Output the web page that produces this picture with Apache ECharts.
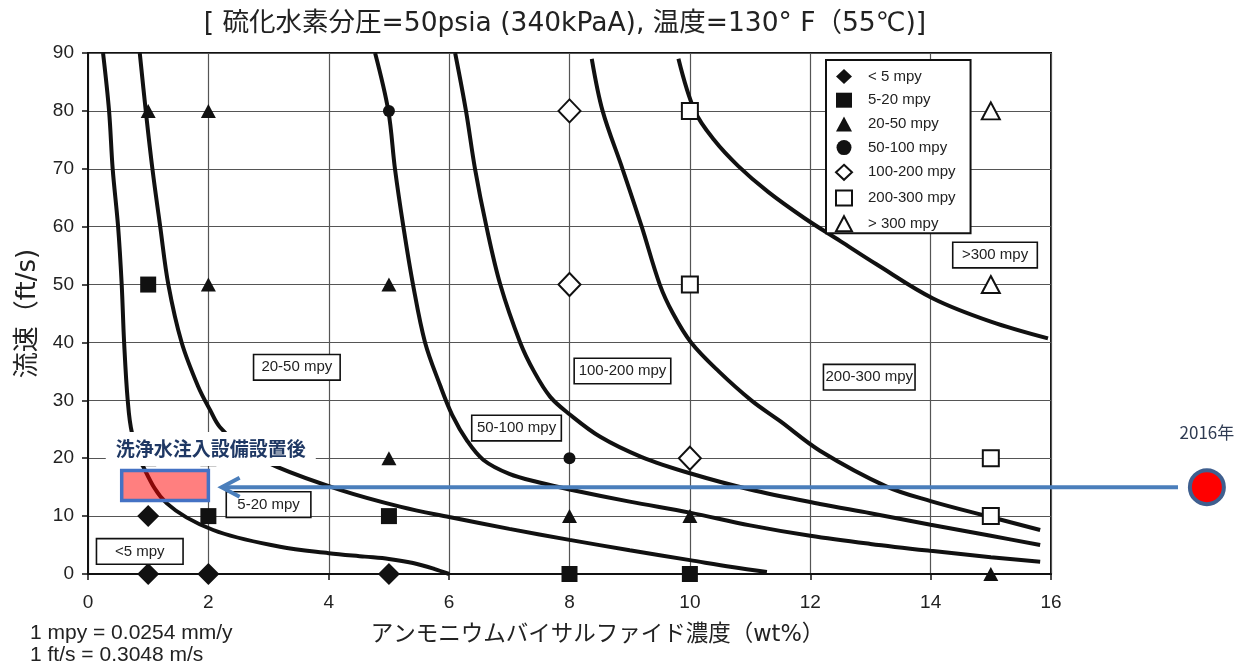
<!DOCTYPE html>
<html><head><meta charset="utf-8">
<script src="https://cdn.jsdelivr.net/npm/echarts@6/dist/echarts.min.js"></script>
<style>html,body{margin:0;padding:0;background:#fff}#c{width:1253px;height:666px}</style>
</head><body><div id="c"></div>
<script>
// ---------- texts ----------
const titleText = '[ 硫化水素分圧=50psia (340kPaA), 温度=130° F（55℃)]';
const xAxisName = 'アンモニウムバイサルファイド濃度（wt%）';
const yAxisName = '流速（ft/s)';
const noteLines = ['1 mpy = 0.0254 mm/y', '1 ft/s = 0.3048 m/s'];

// ---------- axes ----------
const xMin = 0, xMax = 16, xStep = 2;
const yMin = 0, yMax = 90, yStep = 10;

// ---------- boundary curves [wt%, ft/s] ----------
const curveLt5 = [[0.25,90],[0.35,80],[0.41,70],[0.5,60],[0.56,50],[0.6,40],[0.66,30],[0.73,24.4],[0.92,18.5],[1.31,12.2],[2.08,7.6],[3.19,4.7],[4.0,3.6],[4.6,3.0],[5.0,2.6],[5.4,1.9],[5.75,0.9],[6.0,0]];
const curve5to20 = [[0.86,90],[0.96,80],[1.07,70],[1.2,60],[1.335,50],[1.556,40],[1.83,32.4],[2.03,28.3],[2.19,25.4],[2.6,21.6],[3.14,18.5],[4.2,14.5],[5.2,11.6],[6.0,9.85],[7.0,7.8],[8.0,5.9],[9.0,4.1],[10.0,2.4],[10.7,1.2],[11.28,0.35]];
const curve20to50 = [[4.77,90],[4.99,80],[5.1,70],[5.24,60],[5.4,50],[5.6,40],[5.85,32.6],[6.05,27.5],[6.3,23],[6.57,19.7],[7.0,17.3],[7.5,15.8],[8.0,14.6],[9.0,12.5],[10.0,10.6],[11.0,8.4],[12.0,6.6],[13.0,5.2],[14.0,4.0],[15.0,2.9],[15.82,2.1]];
const curve50to100 = [[6.1,90],[6.28,80],[6.43,70],[6.62,60],[6.85,50],[7.18,40],[7.41,35],[7.68,30.6],[8.0,27.6],[8.51,23.7],[9.2,20.2],[10.0,17.4],[11.0,14.6],[12.16,12.1],[13.0,10.5],[14.0,8.5],[15.0,6.6],[15.82,5.0]];
const curve100to200 = [[8.37,89],[8.55,80],[8.88,70],[9.2,60],[9.5,50],[9.72,45],[10.02,40],[10.48,35],[11.02,30],[11.5,26.4],[12.16,21.3],[13.27,15.1],[14.0,12.6],[15.01,9.8],[15.82,7.6]];
const curve200to300 = [[9.81,89],[10.08,80],[10.4,75],[10.8,70.5],[11.3,66],[11.9,61.5],[12.5,57.5],[13.1,53.5],[14.04,47.6],[15.0,43.6],[15.95,40.7]];
const curves = [curveLt5, curve5to20, curve20to50, curve50to100, curve100to200, curve200to300];

// ---------- measured points [wt%, ft/s] ----------
const seriesNames = ['< 5 mpy','5-20 mpy','20-50 mpy','50-100 mpy','100-200 mpy','200-300 mpy','> 300 mpy'];
const ptsLt5 = [[1,0],[2,0],[5,0],[1,10]];
const pts5to20 = [[1,50],[2,10],[5,10],[8,0],[10,0],[1,20],[2,20]];
const pts20to50 = [[1,80],[2,80],[2,50],[5,50],[5,20],[8,10],[10,10],[15,0]];
const pts50to100 = [[5,80],[8,20]];
const pts100to200 = [[8,80],[8,50],[10,20]];
const pts200to300 = [[10,80],[10,50],[15,20],[15,10]];
const ptsGt300 = [[15,80],[15,50]];
const pointSets = [ptsLt5, pts5to20, pts20to50, pts50to100, pts100to200, pts200to300, ptsGt300];

// ---------- zone labels ----------
const zoneLabels = ['<5 mpy','5-20 mpy','20-50 mpy','50-100 mpy','100-200 mpy','200-300 mpy','>300 mpy'];
const zoneLabelAt = [[0.86,3.9],[3.0,12.0],[3.47,35.7],[7.12,25.2],[8.88,35.07],[12.98,34.0],[15.07,55.1]];

// ---------- annotation ----------
const washText = '洗浄水注入設備設置後';
const washTextAt = [2.04, 21.6];
const washRange = [0.56, 12.7, 2.0, 17.9];   // x0, y0, x1, y1
const arrowRange = [18.11, 15, 2.22, 15];     // from x,y  to x,y
const point2016 = [18.59, 15];
const label2016 = '2016年';
const label2016At = [18.59, 24.5];

// ---------- styles (not data) ----------
const symbolStyles = [
  {symbol:'diamond', size:[22,22], fill:'#111'},
  {symbol:'rect', size:16, fill:'#111'},
  {symbol:'triangle', size:[15,14], fill:'#111'},
  {symbol:'circle', size:12, fill:'#111'},
  {symbol:'diamond', size:[22,23], fill:'#fff'},
  {symbol:'rect', size:16, fill:'#fff'},
  {symbol:'triangle', size:[18,17], fill:'#fff'}
];
const zoneBoxW = [87,85,87,90,97,92,85];

const chart = echarts.init(document.getElementById('c'), null, {renderer:'canvas'});
const numFont = 'Liberation Sans, Arial, sans-serif';
const jpFont = 'Noto Sans CJK JP, sans-serif';
const mixFont = 'DejaVu Sans, Noto Sans CJK JP, sans-serif';

const series = [];
curves.forEach((c, i) => {
  series.push({
    name: 'boundary' + i, type: 'line', data: c, showSymbol: false, symbol: 'none',
    smooth: 0.35, silent: true, z: 3,
    lineStyle: {color: '#111', width: 4}
  });
});
pointSets.forEach((p, i) => {
  const s = symbolStyles[i];
  series.push({
    name: seriesNames[i], type: 'scatter', data: p, symbol: s.symbol, symbolSize: s.size, z: 4,
    symbolKeepAspect: false,
    itemStyle: {color: s.fill, borderColor: '#111', borderWidth: s.fill === '#fff' ? 2 : 0, opacity: 1}
  });
});
series.push({
  name: 'zones', type: 'scatter', symbolSize: 0, z: 6, silent: true,
  itemStyle: {opacity: 1},
  data: zoneLabels.map((t, i) => ({
    value: zoneLabelAt[i], name: t,
    label: {width: zoneBoxW[i] - 6}
  })),
  label: {
    show: true, position: 'inside', formatter: p => p.name, align: 'center', opacity: 1,
    fontSize: 15, fontFamily: numFont, color: '#222', lineHeight: 18,
    backgroundColor: '#fff', borderColor: '#111', borderWidth: 1.6, padding: [3, 2]
  }
});
series.push({
  name: 'washRect', type: 'custom', z: 7, silent: true, clip: false,
  data: [washRange],
  renderItem: (params, api) => {
    const p0 = api.coord([api.value(0), api.value(3)]);
    const p1 = api.coord([api.value(2), api.value(1)]);
    return {type: 'rect', shape: {x: p0[0], y: p0[1], width: p1[0]-p0[0], height: p1[1]-p0[1]},
      style: {fill: 'rgba(255,0,0,0.5)', stroke: '#4472c4', lineWidth: 3.5}};
  }
});
series.push({
  name: 'washText', type: 'scatter', symbolSize: 0, z: 8, silent: true,
  itemStyle: {opacity: 1},
  data: [{value: washTextAt, name: washText}],
  label: {
    show: true, position: 'inside', formatter: p => p.name, fontSize: 19, fontWeight: 'bold', opacity: 1,
    fontFamily: jpFont, color: '#1f3864', backgroundColor: '#fff', padding: [5, 10], lineHeight: 24
  }
});
series.push({
  name: 'arrow', type: 'custom', z: 9, silent: true, clip: false,
  data: [arrowRange],
  renderItem: (params, api) => {
    const a = api.coord([api.value(0), api.value(1)]);
    const b = api.coord([api.value(2), api.value(3)]);
    return {type: 'group', children: [
      {type: 'line', shape: {x1: a[0], y1: a[1], x2: b[0]+2, y2: b[1]}, style: {stroke: '#4a7ebb', lineWidth: 4}},
      {type: 'polyline', shape: {points: [[b[0]+18, b[1]-9.5],[b[0], b[1]],[b[0]+18, b[1]+9.5]]},
       style: {stroke: '#4a7ebb', lineWidth: 4, fill: null, lineJoin: 'miter'}}
    ]};
  }
});
series.push({
  name: 'p2016', type: 'custom', z: 10, silent: true, clip: false,
  data: [[point2016[0], point2016[1], label2016At[0], label2016At[1]]],
  renderItem: (params, api) => {
    const c = api.coord([api.value(0), api.value(1)]);
    const t = api.coord([api.value(2), api.value(3)]);
    return {type: 'group', children: [
      {type: 'circle', shape: {cx: c[0], cy: c[1], r: 17}, style: {fill: '#ff0000', stroke: '#3f5f8f', lineWidth: 4}},
      {type: 'text', x: t[0], y: t[1], style: {text: label2016, align: 'center', verticalAlign: 'middle',
        fontSize: 17, fontFamily: jpFont, fill: '#2f3b52'}}
    ]};
  }
});

const axisCommon = {
  type: 'value',
  axisLine: {show: true, onZero: false, lineStyle: {color: '#111', width: 2}},
  axisTick: {show: true, inside: false, length: 6, lineStyle: {color: '#111', width: 1.5}},
  splitLine: {show: true, lineStyle: {color: '#555', width: 1.2}},
  axisLabel: {fontSize: 19, fontFamily: numFont, color: '#222', margin: 14},
  nameMoveOverlap: false
};

chart.setOption({
  backgroundColor: '#fff',
  animation: false,
  title: [
    {text: titleText, left: 560, top: 6, textAlign: 'center',
     textStyle: {fontSize: 26.5, fontWeight: 'normal', color: '#222', fontFamily: mixFont}},
    {text: noteLines.join('\n'), left: 25, top: 617,
     textStyle: {fontSize: 21, fontWeight: 'normal', color: '#222', fontFamily: numFont, lineHeight: 22}}
  ],
  legend: {
    show: true, orient: 'vertical', left: 826, top: 60,
    itemWidth: 16, itemHeight: 15, itemGap: 8.7, symbolKeepAspect: true,
    padding: [9, 15, 1, 9], borderColor: '#111', borderWidth: 2, backgroundColor: '#fff',
    selectedMode: false,
    textStyle: {fontSize: 15, color: '#222', fontFamily: numFont, lineHeight: 15, padding: [0, 0, 0, 11]},
    data: seriesNames
  },
  grid: {left: 88, top: 53, width: 963, height: 521, show: true, borderColor: '#111', borderWidth: 2,
         backgroundColor: 'transparent', containLabel: false, outerBoundsMode: 'none'},
  xAxis: Object.assign({}, axisCommon, {
    min: xMin, max: xMax, interval: xStep,
    axisLabel: {fontSize: 19, fontFamily: numFont, color: '#222', margin: 19},
    name: xAxisName, nameLocation: 'middle', nameGap: 50,
    nameTextStyle: {fontSize: 22.5, color: '#222', fontFamily: mixFont, padding: [0, 0, 0, 56]}
  }),
  yAxis: Object.assign({}, axisCommon, {
    min: yMin, max: yMax, interval: yStep,
    name: yAxisName, nameLocation: 'middle', nameGap: 47, nameRotate: 90,
    nameTextStyle: {fontSize: 26, color: '#222', fontFamily: mixFont}
  }),
  series: series
});
</script>
</body></html>
